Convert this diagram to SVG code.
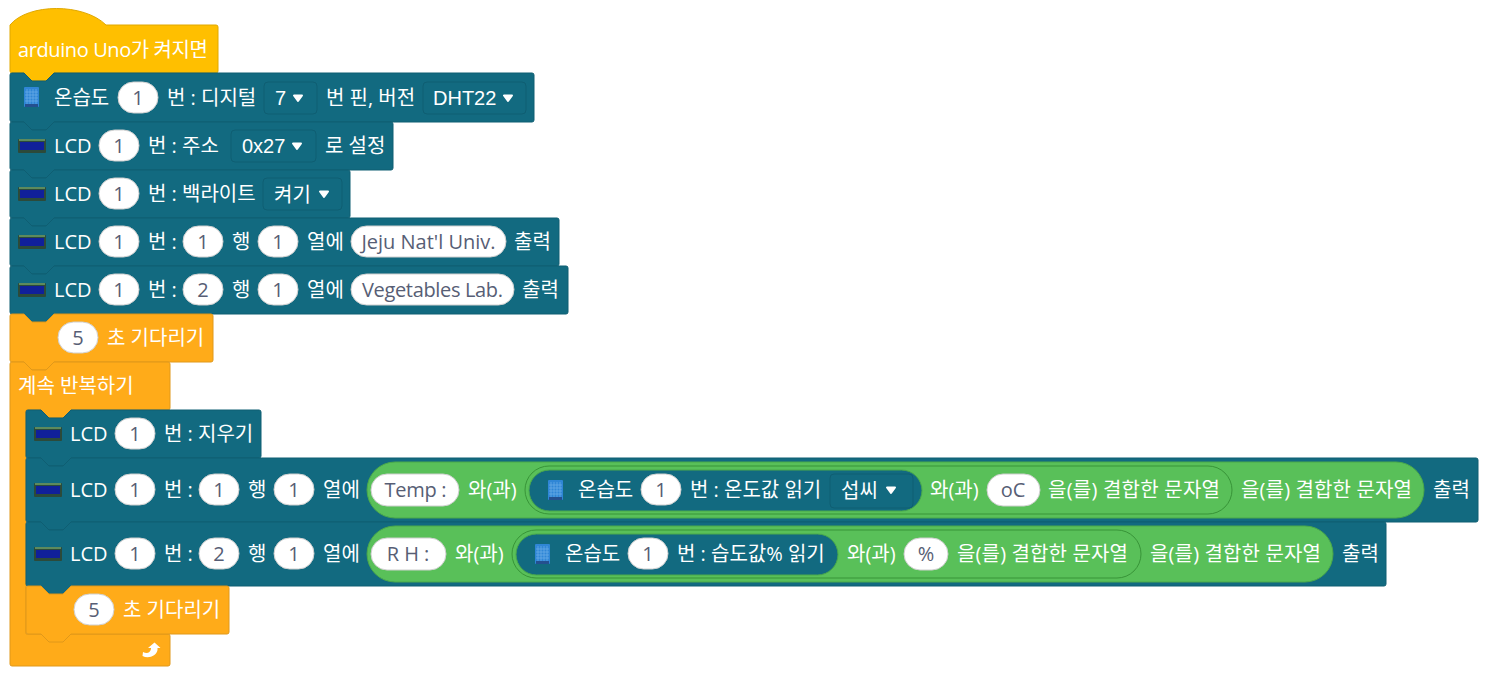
<svg xmlns="http://www.w3.org/2000/svg" width="1488" height="677" viewBox="0 0 1488 677">
<style>
text{font-family:"Open Sans","Noto Sans CJK KR","Noto Sans",sans-serif;font-size:20px;fill:#fff}
.v{fill:#575e75;text-anchor:middle}
.a{font-family:"Liberation Sans","Noto Sans CJK KR",sans-serif}
.b{stroke-width:1;stroke-linejoin:round}
.blue{fill:#126a80;stroke:#0f5e72}
.or{fill:#ffab19;stroke:#e0981a}
.ye{fill:#ffbf00;stroke:#e0a800}
.p{fill:#fff;stroke:#cfcfcf;stroke-width:1}
.dd{fill:#126a80;stroke:#0f5e72;stroke-width:1}
.g{fill:#59c059;stroke:#4aa84a;stroke-width:1}
.g2{fill:#59c059;stroke:#389438;stroke-width:1}
.g3{fill:#126a80;stroke:#4aa84a;stroke-width:1}
</style>
<defs>
<g id="dht"><rect x="0" y="0" width="15" height="20" rx="1" fill="#2f86d6"/><rect x="1" y="17" width="13" height="3" fill="#24508f"/><path d="M3 2V17M6 2V17M9 2V17M12 2V17M1 5H14M1 8H14M1 11H14M1 14H14" stroke="#6fb0e8" stroke-width=".7" fill="none"/></g>
<g id="lcd"><rect x="0" y="0" width="28" height="14" rx="1" fill="#2c4a3a"/><rect x="1" y="0" width="26" height="2" fill="#5d8a5d"/><rect x="2" y="3" width="24" height="8" fill="#10209a"/></g>
<path id="arr" d="M-4-2.500H4L0 3Z" fill="#fff" stroke="#fff" stroke-width="2" stroke-linejoin="round"/>
</defs>
<g id="connectors"/>
<g id="hat"><path class="b ye" d="M10 25C28 3 84 3 106 25H216q2 0 2 2V71q0 2-2 2H54l-8 8H32l-8-8H12q-2 0-2-2Z"/><text x="18" y="57" textLength="190">arduino Uno가 켜지면</text></g>

<g id="dht-init"><path class="b blue" d="M12 73H24l8 8H46l8-8H532q2 0 2 2V120q0 2-2 2H54l-8 8H32l-8-8H12q-2 0-2-2V75q0-2 2-2Z"/><use href="#dht" x="24" y="87"/><text x="54" y="105">온습도</text><rect class="p" x="118" y="82" width="40" height="31" rx="15.500"/><text class="v" x="138" y="105">1</text><text x="167" y="105">번 : 디지털</text><rect class="dd" x="264" y="82" width="53" height="32" rx="4"/><text class="a" x="275" y="105">7</text><use href="#arr" x="298" y="98"/><text x="326" y="105">번 핀, 버전</text><rect class="dd" x="423" y="82" width="103" height="32" rx="4"/><text class="a" x="433" y="105">DHT22</text><use href="#arr" x="508" y="98"/></g>

<g id="lcd-addr"><path class="b blue" d="M12 122H24l8 8H46l8-8H391q2 0 2 2V168q0 2-2 2H54l-8 8H32l-8-8H12q-2 0-2-2V124q0-2 2-2Z"/><use href="#lcd" x="18" y="139"/><text x="54" y="153">LCD</text><rect class="p" x="99" y="130" width="40" height="31" rx="15.500"/><text class="v" x="119" y="153">1</text><text x="148" y="153">번 : 주소</text><rect class="dd" x="231" y="130" width="85" height="32" rx="4"/><text class="a" x="242" y="153">0x27</text><use href="#arr" x="297" y="146"/><text x="325" y="153">로 설정</text></g>

<g id="lcd-backlight"><path class="b blue" d="M12 170H24l8 8H46l8-8H348q2 0 2 2V216q0 2-2 2H54l-8 8H32l-8-8H12q-2 0-2-2V172q0-2 2-2Z"/><use href="#lcd" x="18" y="187"/><text x="54" y="201">LCD</text><rect class="p" x="99" y="178" width="40" height="31" rx="15.500"/><text class="v" x="119" y="201">1</text><text x="148" y="201">번 : 백라이트</text><rect class="dd" x="263" y="178" width="79" height="32" rx="4"/><text x="274" y="202">켜기</text><use href="#arr" x="324" y="194"/></g>

<g id="lcd-line1"><path class="b blue" d="M12 218H24l8 8H46l8-8H557q2 0 2 2V264q0 2-2 2H54l-8 8H32l-8-8H12q-2 0-2-2V220q0-2 2-2Z"/><use href="#lcd" x="18" y="235"/><text x="54" y="249">LCD</text><rect class="p" x="99" y="226" width="40" height="31" rx="15.500"/><text class="v" x="119" y="249">1</text><text x="148" y="249">번 :</text><rect class="p" x="183" y="226" width="40" height="31" rx="15.500"/><text class="v" x="203" y="249">1</text><text x="232" y="249">행</text><rect class="p" x="258" y="226" width="40" height="31" rx="15.500"/><text class="v" x="278" y="249">1</text><text x="307" y="249">열에</text><rect class="p" x="351" y="226" width="155" height="31" rx="15.500"/><text class="v" x="428.500" y="249">Jeju Nat'l Univ.</text><text x="514" y="249">출력</text></g>

<g id="lcd-line2"><path class="b blue" d="M12 266H24l8 8H46l8-8H566q2 0 2 2V312q0 2-2 2H54l-8 8H32l-8-8H12q-2 0-2-2V268q0-2 2-2Z"/><use href="#lcd" x="18" y="283"/><text x="54" y="297">LCD</text><rect class="p" x="99" y="274" width="40" height="31" rx="15.500"/><text class="v" x="119" y="297">1</text><text x="148" y="297">번 :</text><rect class="p" x="183" y="274" width="40" height="31" rx="15.500"/><text class="v" x="203" y="297">2</text><text x="232" y="297">행</text><rect class="p" x="258" y="274" width="40" height="31" rx="15.500"/><text class="v" x="278" y="297">1</text><text x="307" y="297">열에</text><rect class="p" x="351" y="274" width="163" height="31" rx="15.500"/><text class="v" x="432.500" y="297" textLength="141">Vegetables Lab.</text><text x="522" y="297">출력</text></g>

<g id="wait-1"><path class="b or" d="M12 314H24l8 8H46l8-8H211q2 0 2 2V360q0 2-2 2H54l-8 8H32l-8-8H12q-2 0-2-2V316q0-2 2-2Z"/><rect class="p" x="58" y="322" width="40" height="31" rx="15.500"/><text class="v" x="78" y="345">5</text><text x="107" y="345">초 기다리기</text></g>

<g id="forever"><path class="b or" d="M12 362H24l8 8H46l8-8H168q2 0 2 2V408q0 2-2 2H71l-8 8H49l-8-8H26V634H168q2 0 2 2V664q0 2-2 2H12q-2 0-2-2V364q0-2 2-2Z"/><text x="18" y="393">계속 반복하기</text><path d="M143 652c4 2 7 1 8-3v-1h-3l6.500-5.500 6 5.500h-3v2c-1 6-9 9-15 6Z" fill="#fff"/></g>

<g id="lcd-clear"><path class="b blue" d="M28 410H41l8 8H63l8-8H259q2 0 2 2V456q0 2-2 2H71l-8 8H49l-8-8H28q-2 0-2-2V412q0-2 2-2Z"/><use href="#lcd" x="34" y="427"/><text x="70" y="441">LCD</text><rect class="p" x="115" y="418" width="40" height="31" rx="15.500"/><text class="v" x="135" y="441">1</text><text x="164" y="441">번 : 지우기</text></g>

<g id="lcd-temp"><path class="b blue" d="M28 458H41l8 8H63l8-8H1476q2 0 2 2V520q0 2-2 2H71l-8 8H49l-8-8H28q-2 0-2-2V460q0-2 2-2Z"/><use href="#lcd" x="34" y="483"/><text x="70" y="497">LCD</text><rect class="p" x="115" y="474" width="40" height="31" rx="15.500"/><text class="v" x="135" y="497">1</text><text x="164" y="497">번 :</text><rect class="p" x="199" y="474" width="40" height="31" rx="15.500"/><text class="v" x="219" y="497">1</text><text x="248" y="497">행</text><rect class="p" x="274" y="474" width="40" height="31" rx="15.500"/><text class="v" x="294" y="497">1</text><text x="323" y="497">열에</text><rect class="g" x="367" y="462" width="1057" height="56" rx="28"/><rect class="p" x="371" y="474" width="88" height="32" rx="16"/><text class="v" x="415.500" y="497" textLength="62">Temp :</text><text x="468" y="497">와(과)</text><rect class="g2" x="525" y="466" width="707" height="48" rx="24"/><rect class="g3" x="529" y="470" width="393" height="41" rx="20.500"/><use href="#dht" x="548" y="480"/><text x="578" y="497">온습도</text><rect class="p" x="641" y="474" width="40" height="31" rx="15.500"/><text class="v" x="661" y="497">1</text><text x="690" y="497">번 : 온도값 읽기</text><rect class="dd" x="830" y="474" width="83" height="34" rx="4"/><text x="841" y="498">섭씨</text><use href="#arr" x="891" y="490"/><text x="930" y="497">와(과)</text><rect class="p" x="987" y="474" width="53" height="32" rx="16"/><text class="v" x="1013" y="497">oC</text><text x="1048" y="497" textLength="172">을(를) 결합한 문자열</text><text x="1241" y="497" textLength="171">을(를) 결합한 문자열</text><text x="1433" y="497">출력</text></g>

<g id="lcd-rh"><path class="b blue" d="M28 522H41l8 8H63l8-8H1384q2 0 2 2V584q0 2-2 2H71l-8 8H49l-8-8H28q-2 0-2-2V524q0-2 2-2Z"/><use href="#lcd" x="34" y="547"/><text x="70" y="561">LCD</text><rect class="p" x="115" y="538" width="40" height="31" rx="15.500"/><text class="v" x="135" y="561">1</text><text x="164" y="561">번 :</text><rect class="p" x="199" y="538" width="40" height="31" rx="15.500"/><text class="v" x="219" y="561">2</text><text x="248" y="561">행</text><rect class="p" x="274" y="538" width="40" height="31" rx="15.500"/><text class="v" x="294" y="561">1</text><text x="323" y="561">열에</text><rect class="g" x="367" y="526" width="966" height="56" rx="28"/><rect class="p" x="371" y="538" width="75" height="32" rx="16"/><text class="v" x="408" y="561">R H :</text><text x="455" y="561">와(과)</text><rect class="g2" x="512" y="530" width="629" height="48" rx="24"/><rect class="g3" x="516" y="534" width="322" height="41" rx="20.500"/><use href="#dht" x="535" y="544"/><text x="565" y="561">온습도</text><rect class="p" x="628" y="538" width="40" height="31" rx="15.500"/><text class="v" x="648" y="561">1</text><text x="677" y="561">번 : 습도값% 읽기</text><text x="847" y="561">와(과)</text><rect class="p" x="904" y="538" width="44" height="32" rx="16"/><text class="v" x="926" y="561">%</text><text x="957" y="561" textLength="171">을(를) 결합한 문자열</text><text x="1150" y="561" textLength="171">을(를) 결합한 문자열</text><text x="1342" y="561">출력</text></g>

<g id="wait-2"><path class="b or" d="M28 586H41l8 8H63l8-8H227q2 0 2 2V632q0 2-2 2H71l-8 8H49l-8-8H28q-2 0-2-2V588q0-2 2-2Z"/><rect class="p" x="74" y="594" width="40" height="31" rx="15.500"/><text class="v" x="94" y="617">5</text><text x="123" y="617">초 기다리기</text></g>
</svg>
